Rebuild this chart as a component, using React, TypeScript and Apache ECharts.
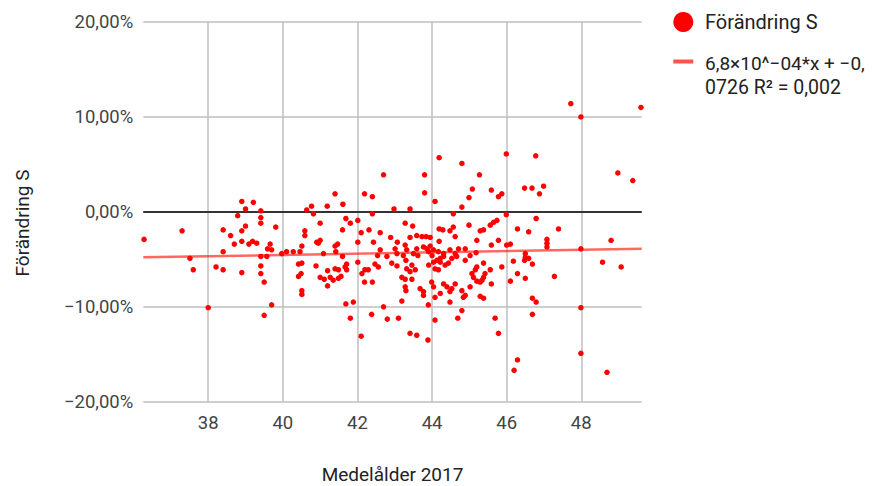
import React, { useEffect, useRef } from "react";
import * as echarts from "echarts";

// Medelålder 2017 (x) vs Förändring S in % (y)
const pointsUnder40: number[][] = [
  [36.28, -2.9], [37.3, -2.0], [37.51, -4.9], [37.6, -6.1], [38.0, -10.1], [38.21, -5.8],
  [38.4, -1.9], [38.4, -4.2], [38.4, -6.1], [38.6, -2.5], [38.7, -3.4], [38.79, -0.4],
  [38.9, 1.1], [39.0, 0.3], [39.21, 1.0], [38.9, -2.0], [39.0, -1.5], [38.9, -3.1],
  [38.9, -6.4], [39.09, -3.4], [39.19, -3.1], [39.3, -3.3], [39.41, 0.1], [39.41, -0.6],
  [39.41, -1.2], [39.41, -4.7], [39.41, -5.7], [39.41, -6.5], [39.5, -7.4], [39.5, -10.9],
  [39.7, -9.8], [39.81, -1.6], [39.59, -3.9], [39.66, -3.4], [39.7, -4.0], [39.57, -4.7],
  [39.97, -4.4],
];

const points40to42: number[][] = [
  [40.1, -4.2], [40.28, -4.2], [40.46, -4.2], [40.51, -3.6], [40.59, -2.0], [40.59, -2.5],
  [40.64, 0.2], [40.77, 0.6], [40.82, -0.2], [40.42, -5.5], [40.51, -5.4], [40.42, -6.8],
  [40.49, -6.5], [40.51, -8.3], [40.51, -8.7], [41.0, -1.2], [40.91, -3.2], [41.0, -3.0],
  [40.95, -3.3], [41.09, -4.4], [40.89, -5.7], [41.0, -6.9], [41.11, -7.1], [41.2, -7.8],
  [41.2, -6.2], [41.19, 0.6], [41.4, 1.9], [41.61, 0.8], [41.4, -3.6], [41.47, -3.4],
  [41.42, -4.2], [41.27, -6.9], [41.4, -6.0], [41.49, -6.1], [41.35, -7.2], [41.49, -7.0],
  [41.56, -6.8], [41.67, -5.8], [41.71, -6.1], [41.71, -5.5], [41.6, -1.9], [41.69, -0.7],
  [41.81, -1.2], [41.6, -4.7], [41.69, -9.7], [41.89, -9.5], [41.81, -11.2],
];

const points42to44: number[][] = [
  [42.01, -0.9], [42.01, -3.2], [42.01, -5.3], [42.1, -2.2], [42.19, 1.9], [42.4, 1.6],
  [42.31, -1.9], [42.4, -0.2], [42.19, -7.4], [42.4, -7.4], [42.12, -6.5], [42.2, -6.1],
  [42.29, -6.1], [42.43, -3.2], [42.1, -13.1], [42.38, -10.8], [42.7, 3.9], [43.8, 3.9],
  [43.8, 2.0], [42.98, 0.3], [43.41, 0.3], [43.28, -1.2], [43.48, -1.5], [42.61, -2.2],
  [42.89, -2.7], [43.41, -2.7], [43.59, -2.5], [43.73, -2.6], [43.84, -2.6], [43.95, -2.7],
  [42.61, -4.0], [42.54, -4.6], [43.01, -3.9], [43.06, -4.4], [43.28, -3.5], [43.32, -4.0],
  [43.23, -4.6], [43.5, -4.4], [43.62, -4.6], [43.77, -3.7], [43.86, -3.9], [43.95, -3.6],
  [43.91, -4.2], [42.47, -5.5], [42.56, -5.8], [42.92, -5.4], [43.06, -5.7], [43.3, -5.1],
  [43.46, -5.6], [43.32, -6.0], [43.41, -6.3], [43.55, -6.1], [43.91, -5.6], [43.19, -6.9],
  [43.28, -7.1], [43.46, -7.1], [43.28, -7.9], [43.3, -8.3], [43.68, -8.1], [43.77, -8.4],
  [43.77, -8.8], [43.99, -7.4], [43.19, -9.4], [43.9, -9.8], [42.7, -10.0], [42.8, -11.3],
  [43.1, -11.2], [43.41, -12.8], [43.59, -13.0], [43.89, -13.5], [43.07, -3.2], [42.79, -4.7],
  [43.59, -3.9],
];

const points44to46: number[][] = [
  [44.19, 5.7], [44.8, 5.1], [45.27, 3.9], [44.08, 1.1], [45.08, 2.4], [44.99, 1.5],
  [44.8, 0.5], [44.57, -0.2], [44.19, -1.8], [44.29, -1.9], [44.48, -2.0], [44.57, -1.6],
  [44.62, -2.6], [44.99, -1.4], [45.29, -2.0], [44.19, -3.1], [44.04, -4.0], [44.0, -4.6],
  [44.22, -4.9], [44.31, -4.7], [44.13, -5.1], [44.48, -4.0], [44.62, -4.4], [44.71, -3.9],
  [44.66, -4.7], [44.89, -3.9], [45.02, -4.6], [45.18, -4.3], [44.08, -6.0], [44.17, -6.1],
  [44.22, -5.3], [44.35, -5.6], [44.44, -5.4], [44.04, -7.9], [44.08, -9.0], [44.22, -8.6],
  [44.31, -7.6], [44.4, -7.9], [44.48, -8.4], [44.53, -8.1], [44.48, -9.5], [44.62, -7.6],
  [44.8, -8.3], [44.89, -8.8], [44.84, -9.0], [45.07, -6.5], [45.11, -6.9], [45.2, -5.8],
  [45.16, -6.1], [45.02, -7.9], [44.08, -11.4], [44.69, -11.2], [44.8, -10.4], [44.17, -4.2],
  [44.31, -4.4], [44.04, -5.3], [44.53, -4.9], [44.89, -5.1], [45.56, -6.1], [45.2, -7.3],
  [45.99, 6.1], [45.59, 2.3], [45.78, 1.6], [45.87, 1.9], [45.99, -0.3], [45.74, -0.9],
  [45.65, -1.1], [45.56, -1.4], [45.38, -1.9], [45.2, -3.0], [45.59, -3.5], [45.78, -3.0],
  [46.0, -3.5], [45.38, -5.4], [45.87, -5.8], [45.42, -6.5], [45.38, -6.9], [45.29, -7.4],
  [45.34, -7.2], [45.59, -7.6], [45.29, -8.9], [45.38, -9.1], [45.69, -11.2], [45.78, -12.8],
];

const pointsOver46: number[][] = [
  [46.78, 5.9], [46.48, 2.5], [46.68, 2.5], [46.99, 2.7], [46.88, 1.9], [46.79, -0.7],
  [46.29, -1.8], [46.59, -2.1], [47.39, -1.8], [46.1, -3.4], [47.08, -2.9], [47.08, -3.3],
  [47.08, -3.7], [46.5, -4.4], [46.5, -4.8], [46.59, -4.9], [46.48, -5.1], [46.18, -5.2],
  [46.69, -5.5], [46.1, -7.3], [46.29, -6.5], [46.5, -7.0], [47.28, -6.8], [46.69, -9.1],
  [46.79, -9.5], [46.69, -10.8], [46.29, -15.6], [46.2, -16.7], [47.72, 11.4], [49.6, 11.0],
  [47.99, 10.0], [48.98, 4.1], [49.38, 3.3], [48.8, -3.0], [47.99, -3.9], [48.57, -5.3],
  [49.07, -5.8], [47.99, -10.1], [47.99, -14.9], [48.69, -16.9],
];

// Trend line endpoints (6,8×10^−04*x − 0,0726), in %
const trendLine: number[][] = [
  [36.26, -4.79],
  [49.62, -3.89],
];

const xTicks = [38, 40, 42, 44, 46, 48];
const yTicks = [-20, -10, 0, 10, 20];

const seriesName = "Förändring S";
const trendLabel1 = "6,8×10^−04*x + −0,";
const trendLabel2 = "0726 R² = 0,002";
const xTitle = "Medelålder 2017";

const FONT = "Roboto, 'Noto Sans', sans-serif";

function fmtPct(v: number): string {
  const s = Math.abs(v).toFixed(2).replace(".", ",") + "%";
  return v < 0 ? "−" + s : s;
}

export default function App() {
  const ref = useRef<HTMLDivElement>(null);

  useEffect(() => {
    if (!ref.current) return;
    const chart = echarts.init(ref.current, undefined, { renderer: "svg" });
    const allPoints = [
      ...pointsUnder40,
      ...points40to42,
      ...points42to44,
      ...points44to46,
      ...pointsOver46,
    ];
    chart.setOption({
      animation: false,
      backgroundColor: "#ffffff",
      textStyle: { fontFamily: FONT },
      grid: {
        left: 143.3,
        right: 230.3,
        top: 22,
        bottom: 84.3,
        containLabel: false,
        outerBoundsMode: "none",
      },
      xAxis: {
        type: "value",
        min: 36.26,
        max: 49.62,
        axisLine: { show: false },
        axisTick: { show: false, customValues: xTicks },
        axisLabel: {
          customValues: xTicks,
          fontSize: 18.5,
          color: "#444",
          margin: 12,
          fontFamily: FONT,
          formatter: (v: number) => String(v),
        },
        splitLine: { show: true, lineStyle: { color: "#bfbfbf", width: 1.5 } },
        name: xTitle,
        nameLocation: "middle",
        nameGap: 63,
        nameTextStyle: { fontSize: 19, lineHeight: 19, color: "#222", fontFamily: FONT },
      },
      yAxis: {
        type: "value",
        min: yTicks[0],
        max: yTicks[yTicks.length - 1],
        interval: 10,
        axisLine: { show: false },
        axisTick: { show: false },
        axisLabel: {
          fontSize: 18.5,
          color: "#444",
          margin: 10,
          fontFamily: FONT,
          formatter: (v: number) => fmtPct(v),
        },
        splitLine: { show: true, lineStyle: { color: "#bfbfbf", width: 1.5 } },
      },
      series: [
        {
          type: "line",
          name: "trend",
          data: trendLine,
          showSymbol: false,
          symbol: "none",
          lineStyle: { color: "rgba(255,40,30,0.7)", width: 2.5 },
          silent: true,
          z: 1,
        },
        {
          type: "scatter",
          name: seriesName,
          data: allPoints,
          symbolSize: 5.5,
          itemStyle: { color: "#ff0000", opacity: 1 },
          z: 3,
          markLine: {
            silent: true,
            symbol: ["none", "none"],
            label: { show: false },
            lineStyle: { color: "#333", width: 2, type: "solid" },
            data: [{ yAxis: 0 }],
            z: 2,
          },
        },
      ],
      graphic: [
        {
          type: "text",
          x: 22.5,
          y: 223,
          rotation: Math.PI / 2,
          style: {
            text: seriesName,
            fontSize: 19,
            fill: "#222",
            fontFamily: FONT,
            align: "center",
            verticalAlign: "middle",
          },
        },
        { type: "circle", shape: { cx: 683.3, cy: 22, r: 10 }, style: { fill: "#ff0000" } },
        {
          type: "text",
          x: 705,
          y: 22,
          style: { text: seriesName, fontSize: 20, fill: "#222", fontFamily: FONT, verticalAlign: "middle" },
        },
        { type: "rect", shape: { x: 673.3, y: 59.5, width: 20, height: 4 }, style: { fill: "rgba(255,40,30,0.8)" } },
        {
          type: "text",
          x: 705,
          y: 63,
          style: { text: trendLabel1, fontSize: 19, fill: "#222", fontFamily: FONT, verticalAlign: "middle" },
        },
        {
          type: "text",
          x: 705,
          y: 87,
          style: { text: trendLabel2, fontSize: 19.5, fill: "#222", fontFamily: FONT, verticalAlign: "middle" },
        },
      ],
    });
    return () => chart.dispose();
  }, []);

  return (
    <div
      ref={ref}
      style={{ position: "fixed", left: 0, top: 0, width: 872, height: 486, background: "#fff" }}
    />
  );
}
